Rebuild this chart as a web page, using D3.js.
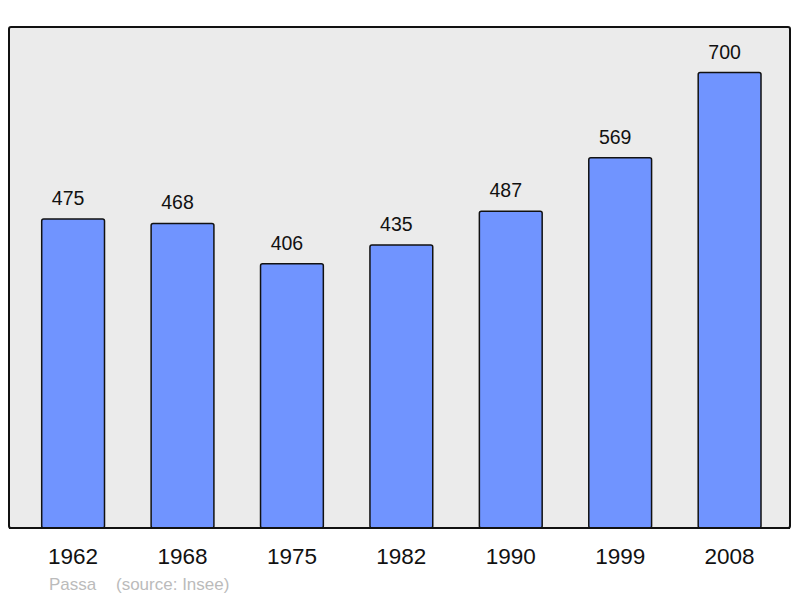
<!DOCTYPE html>
<html>
<head>
<meta charset="utf-8">
<script src="https://cdn.jsdelivr.net/npm/d3@7"></script>
<style>
  body { margin: 0; background: #fff; }
  text { font-family: "Liberation Sans", Arial, sans-serif; }
</style>
</head>
<body>
<div id="chart"></div>
<script>
var years = ["1962", "1968", "1975", "1982", "1990", "1999", "2008"];
var population = [475, 468, 406, 435, 487, 569, 700];
var footer = ["Passa", "(source: Insee)"];

var svg = d3.select("#chart").append("svg")
            .attr("width", 800)
            .attr("height", 598);

var x = d3.scaleBand()
          .domain(years)
          .range([41.7, 761])
          .paddingInner(0.426)
          .paddingOuter(0);

var y = d3.scaleLinear()
          .domain([0, 770])
          .range([528, 27]);

// background frame
svg.append("rect")
   .attr("x", 9)
   .attr("y", y(770))
   .attr("width", 781)
   .attr("height", y(0) - y(770))
   .attr("rx", 2)
   .attr("fill", "#ebebeb")
   .attr("stroke", "#111")
   .attr("stroke-width", 2);

svg.selectAll(".bar")
   .data(population)
   .enter()
   .append("rect")
   .attr("class", "bar")
   .attr("x", function(d, i) { return x(years[i]); })
   .attr("y", function(d) { return y(d); })
   .attr("width", x.bandwidth())
   .attr("height", function(d) { return y(0) - y(d); })
   .attr("rx", 2)
   .attr("fill", "#7094ff")
   .attr("stroke", "#111")
   .attr("stroke-width", 1.5);

// redraw bottom line over bars
svg.append("line")
   .attr("x1", 9).attr("x2", 790)
   .attr("y1", y(0)).attr("y2", y(0))
   .attr("stroke", "#111")
   .attr("stroke-width", 2);

svg.selectAll(".val")
   .data(population)
   .enter()
   .append("text")
   .attr("class", "val")
   .attr("x", function(d, i) { return x(years[i]) + x.bandwidth() / 2 - 5; })
   .attr("y", function(d) { return y(d) - 14; })
   .attr("text-anchor", "middle")
   .style("font-size", "19.5px")
   .attr("fill", "#111")
   .text(function(d) { return d; });

var xAxis = svg.append("g")
   .attr("transform", "translate(0," + y(0) + ")")
   .call(d3.axisBottom(x).tickSize(0).tickPadding(0));
xAxis.select(".domain").remove();
xAxis.selectAll("text")
     .attr("dy", null)
     .attr("y", 36)
     .attr("fill", "#111")
     .style("font-family", "Liberation Sans, Arial, sans-serif")
     .style("font-size", "22.5px");

svg.append("text")
   .attr("x", 49)
   .attr("y", 590)
   .attr("fill", "#bbb")
   .style("font-size", "17px")
   .text(footer[0]);

svg.append("text")
   .attr("x", 116)
   .attr("y", 590)
   .attr("fill", "#bbb")
   .style("font-size", "17px")
   .text(footer[1]);
</script>
</body>
</html>
